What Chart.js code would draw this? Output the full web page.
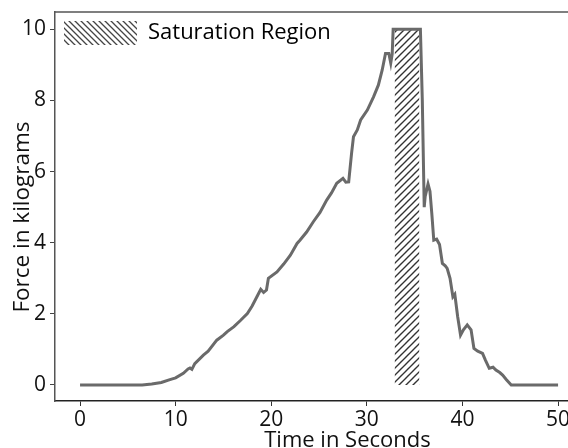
<!DOCTYPE html>
<html>
<head>
<meta charset="utf-8">
<script src="https://cdn.jsdelivr.net/npm/chart.js@4/dist/chart.umd.min.js"></script>
<style>
  html, body { margin: 0; padding: 0; background: #fff; }
  #wrap { width: 568px; height: 448px; overflow: hidden; position: relative; }
  canvas { display: block; }
</style>
</head>
<body>
<div id="wrap"><canvas id="c" width="660" height="460"></canvas></div>
<script>
// ---- data ----
const timeSeconds = [0, 6.5, 7.5, 8.5, 9.4, 10.0, 10.8, 11.3, 11.5, 11.7, 12.0, 12.9, 13.4, 14.3, 15.0, 15.4, 16.1, 16.8, 17.5, 18.0, 18.5, 18.9, 19.2, 19.5, 19.7, 20.6, 21.3, 22.0, 22.7, 23.0, 23.7, 24.4, 25.1, 25.8, 26.3, 26.85, 27.5, 27.8, 28.1, 28.4, 28.6, 29.0, 29.35, 30.05, 30.7, 31.2, 31.6, 31.95, 32.3, 32.5, 32.65, 32.75, 35.6, 35.8, 36.0, 36.1, 36.4, 36.6, 36.8, 37.0, 37.3, 37.6, 37.9, 38.2, 38.4, 38.7, 39.0, 39.2, 39.5, 39.8, 40.1, 40.5, 40.9, 41.2, 41.6, 42.1, 42.4, 42.8, 43.2, 43.5, 43.9, 44.2, 44.6, 45.1, 50.0];
const forceKg = [0, 0, 0.03, 0.07, 0.15, 0.2, 0.33, 0.45, 0.48, 0.44, 0.6, 0.84, 0.95, 1.26, 1.4, 1.5, 1.64, 1.82, 2.01, 2.22, 2.48, 2.69, 2.6, 2.67, 3.0, 3.18, 3.4, 3.65, 3.98, 4.07, 4.3, 4.59, 4.85, 5.2, 5.4, 5.67, 5.81, 5.7, 5.71, 6.51, 6.98, 7.17, 7.45, 7.73, 8.1, 8.43, 8.85, 9.32, 9.32, 9.05, 9.3, 10.0, 10.0, 8.0, 5.0, 5.3, 5.65, 5.45, 4.8, 4.07, 4.1, 3.95, 3.42, 3.35, 3.28, 3.0, 2.48, 2.55, 1.92, 1.4, 1.55, 1.69, 1.55, 1.03, 0.95, 0.89, 0.7, 0.47, 0.5, 0.42, 0.35, 0.28, 0.15, 0, 0];
const saturationStart = 32.9;
const saturationEnd = 35.5;
const saturationLevel = 10;
const xTickValues = [0, 10, 20, 30, 40, 50];
const yTickValues = [0, 2, 4, 6, 8, 10];
const legendLabel = 'Saturation Region';
const xTitle = 'Time in Seconds';
const yTitle = 'Force in kilograms';

// ---- hatch patterns ----
function makeHatch(size, dir, color, lw) {
  const c = document.createElement('canvas');
  c.width = size; c.height = size;
  const g = c.getContext('2d');
  g.strokeStyle = color; g.lineWidth = lw;
  g.beginPath();
  if (dir === '/') {
    g.moveTo(-1, size + 1); g.lineTo(size + 1, -1);
    g.moveTo(-size - 1, size + 1); g.lineTo(1, -1);
    g.moveTo(size - 1, size + 1); g.lineTo(2 * size + 1, -1);
  } else {
    g.moveTo(-1, -1); g.lineTo(size + 1, size + 1);
    g.moveTo(-size - 1, -1); g.lineTo(1, size + 1);
    g.moveTo(size - 1, -1); g.lineTo(2 * size + 1, size + 1);
  }
  g.stroke();
  return g.createPattern(c, 'repeat');
}
const ctx = document.getElementById('c').getContext('2d');
const plotHatch = makeHatch(7, '/', '#333', 1.4);
const legendHatch = makeHatch(6, '\\', '#444', 1.3);

const FONT = "'Open Sans'";

const frame = {
  id: 'frame',
  afterLayout(chart) {
    if (chart.legend) {
      const h = chart.legend.height;
      chart.legend.top = chart.chartArea.top;
      chart.legend.bottom = chart.chartArea.top + h;
    }
  },
  afterDraw(chart) {
    const {ctx, chartArea: a} = chart;
    ctx.save();
    ctx.strokeStyle = '#555';
    ctx.lineWidth = 1.5;
    ctx.beginPath();
    ctx.moveTo(a.left, a.top);
    ctx.lineTo(a.right, a.top);
    ctx.stroke();
    // y axis title
    ctx.fillStyle = '#111';
    ctx.font = '22.5px ' + FONT;
    ctx.translate(28.5, 217);
    ctx.rotate(-Math.PI / 2);
    ctx.textAlign = 'center';
    ctx.textBaseline = 'alphabetic';
    ctx.fillText(yTitle, 0, 0);
    ctx.restore();
  }
};

new Chart(ctx, {
  type: 'line',
  data: {
    datasets: [
      {
        label: 'Force',
        data: timeSeconds.map((t, i) => ({x: t, y: forceKg[i]})),
        borderColor: '#6a6a6a',
        borderWidth: 3,
        pointRadius: 0,
        tension: 0,
        fill: false,
        order: 0
      },
      {
        label: legendLabel,
        data: [{x: saturationStart, y: saturationLevel}, {x: saturationEnd, y: saturationLevel}],
        borderWidth: 0,
        borderColor: 'rgba(0,0,0,0)',
        backgroundColor: plotHatch,
        pointRadius: 0,
        fill: 'origin',
        order: 1
      }
    ]
  },
  options: {
    responsive: false,
    animation: false,
    layout: { padding: { top: 12, right: 20, left: 0, bottom: 0 } },
    plugins: {
      tooltip: { enabled: false },
      legend: {
        position: 'chartArea',
        align: 'start',
        labels: {
          boxWidth: 73,
          boxHeight: 24,
          padding: 9,
          color: '#111',
          font: { family: FONT, size: 22 },
          generateLabels: () => [{
            text: legendLabel,
            fillStyle: legendHatch,
            strokeStyle: 'rgba(0,0,0,0)',
            lineWidth: 0,
            hidden: false,
            datasetIndex: 1
          }]
        }
      }
    },
    scales: {
      x: {
        type: 'linear',
        min: -2.62,
        max: 58.57,
        afterFit: s => { s.height = 59; },
        afterBuildTicks: s => { s.ticks = xTickValues.map(v => ({value: v})); },
        grid: { drawOnChartArea: false, drawTicks: true, tickLength: 5, color: '#333', lineWidth: 1 },
        border: { display: true, color: '#222', width: 1.5 },
        ticks: { padding: 1, color: '#111', font: { family: FONT, size: 21 }, maxRotation: 0 },
        title: { display: true, text: xTitle, color: '#111', font: { family: FONT, size: 22 }, padding: { top: 0, bottom: 6 } }
      },
      y: {
        type: 'linear',
        min: -0.45,
        max: 10.487,
        afterFit: s => { s.width = 55; s.paddingTop = 0; s.paddingBottom = 0; },
        afterBuildTicks: s => { s.ticks = yTickValues.map(v => ({value: v})); },
        grid: { drawOnChartArea: false, drawTicks: true, tickLength: 5, color: '#444', lineWidth: 1 },
        border: { display: true, color: '#555', width: 1.5 },
        ticks: { padding: 4, color: '#111', font: { family: FONT, size: 21 } }
      }
    }
  },
  plugins: [frame]
});
</script>
</body>
</html>
